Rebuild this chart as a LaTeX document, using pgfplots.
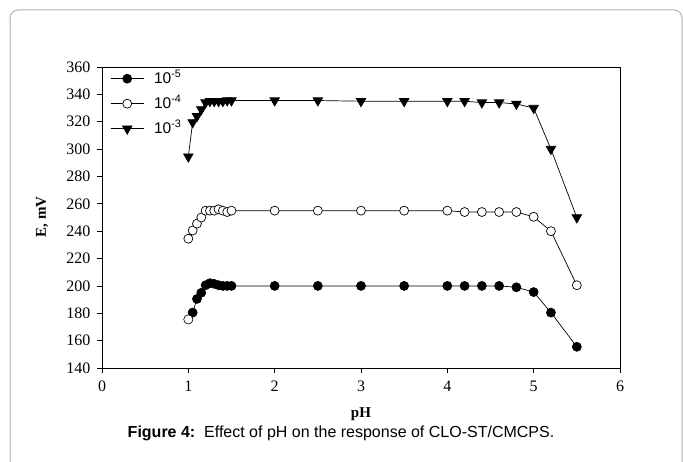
\documentclass[border=0pt]{standalone}
\usepackage{pgfplots}
\pgfplotsset{compat=1.18}
\usepackage{fontspec}
\setmainfont{Liberation Serif}
\newfontfamily\arial{Liberation Sans}
\begin{document}
\begin{tikzpicture}
\path[use as bounding box] (0pt,0pt) rectangle (683pt,461pt);
\draw[black!30, line width=1pt, rounded corners=8pt] (10pt,-5pt) -- (10pt,451pt) -- (682pt,451pt) -- (682pt,-5pt);
\begin{axis}[
  at={(102pt,93pt)}, anchor=south west, scale only axis,
  width=518pt, height=301pt,
  xmin=0, xmax=6, ymin=140, ymax=360,
  xtick={0,1,...,6}, ytick={140,160,...,360},
  tick align=outside, tick pos=left, major tick length=5pt,
  axis line style={line width=0.9pt},
  every tick/.style={black, line width=0.8pt},
  tick label style={font=\fontsize{16}{16}\selectfont},
  xticklabel style={yshift=-4pt},
  yticklabel style={xshift=-3pt},
  /pgf/number format/assume math mode=true,
  legend cell align=left,
  legend style={at={(0.01,0.99)}, anchor=north west, draw=none, fill=none,
    font=\arial\fontsize{15.5}{15.5}\selectfont,
    nodes={inner sep=0pt, text height=11pt, text depth=2pt},
    row sep=12pt, column sep=10pt},
  legend image code/.code={\draw[mark repeat=2,mark phase=2] plot coordinates {(0pt,0pt)(16.5pt,0pt)(33pt,0pt)};},
]
\addplot[black, line width=0.7pt, mark=*, mark size=4.5pt, mark options={fill=black}] coordinates {
(1.0,175.5) (1.05,180.5) (1.1,190.5) (1.15,195) (1.2,200.5) (1.25,202) (1.3,201.5) (1.35,200.5) (1.4,200) (1.45,200) (1.5,200) (2,200) (2.5,200) (3,200) (3.5,200) (4,200) (4.2,200) (4.4,200) (4.6,200) (4.8,199) (5,195.5) (5.2,180.5) (5.5,155.5)};
\addlegendentry{10\textsuperscript{-5}}
\addplot[black, line width=0.7pt, mark=*, mark size=4.5pt, mark options={fill=white}] coordinates {
(1.0,234.5) (1.05,240.5) (1.1,245.5) (1.15,250) (1.2,255) (1.25,255) (1.3,255) (1.35,256) (1.4,255) (1.45,254) (1.5,255) (2,255) (2.5,255) (3,255) (3.5,255) (4,255) (4.2,254) (4.4,254) (4.6,254) (4.8,254) (5,250.5) (5.2,240) (5.5,200.5)};
\addlegendentry{10\textsuperscript{-4}}
\addplot[black, line width=0.7pt, mark=triangle*, mark size=5.5pt, mark options={fill=black, rotate=180}] coordinates {
(1.0,294.5) (1.05,319.5) (1.1,324) (1.15,329) (1.2,334) (1.25,335) (1.3,335) (1.35,335) (1.4,335) (1.45,335.5) (1.5,335.5) (2,335.5) (2.5,335.5) (3,335) (3.5,335) (4,335) (4.2,335) (4.4,334) (4.6,334) (4.8,333) (5,330) (5.2,300) (5.5,250)};
\addlegendentry{10\textsuperscript{-3}}
\addplot[only marks, black, mark=*, mark size=4.5pt, mark options={fill=white}, forget plot] coordinates {(1.0,175.5)};
\end{axis}
\node[font=\fontsize{15}{15}\selectfont] at (361pt,47pt) {\textbf{pH}};
\node[rotate=90, font=\fontsize{15}{15}\selectfont] at (42pt,244pt) {\textbf{E, mV}};
\node[font=\arial\fontsize{16}{16}\selectfont] at (341pt,28pt) {\textbf{Figure 4:}\ \ Effect of pH on the response of CLO-ST/CMCPS.};
\end{tikzpicture}
\end{document}
